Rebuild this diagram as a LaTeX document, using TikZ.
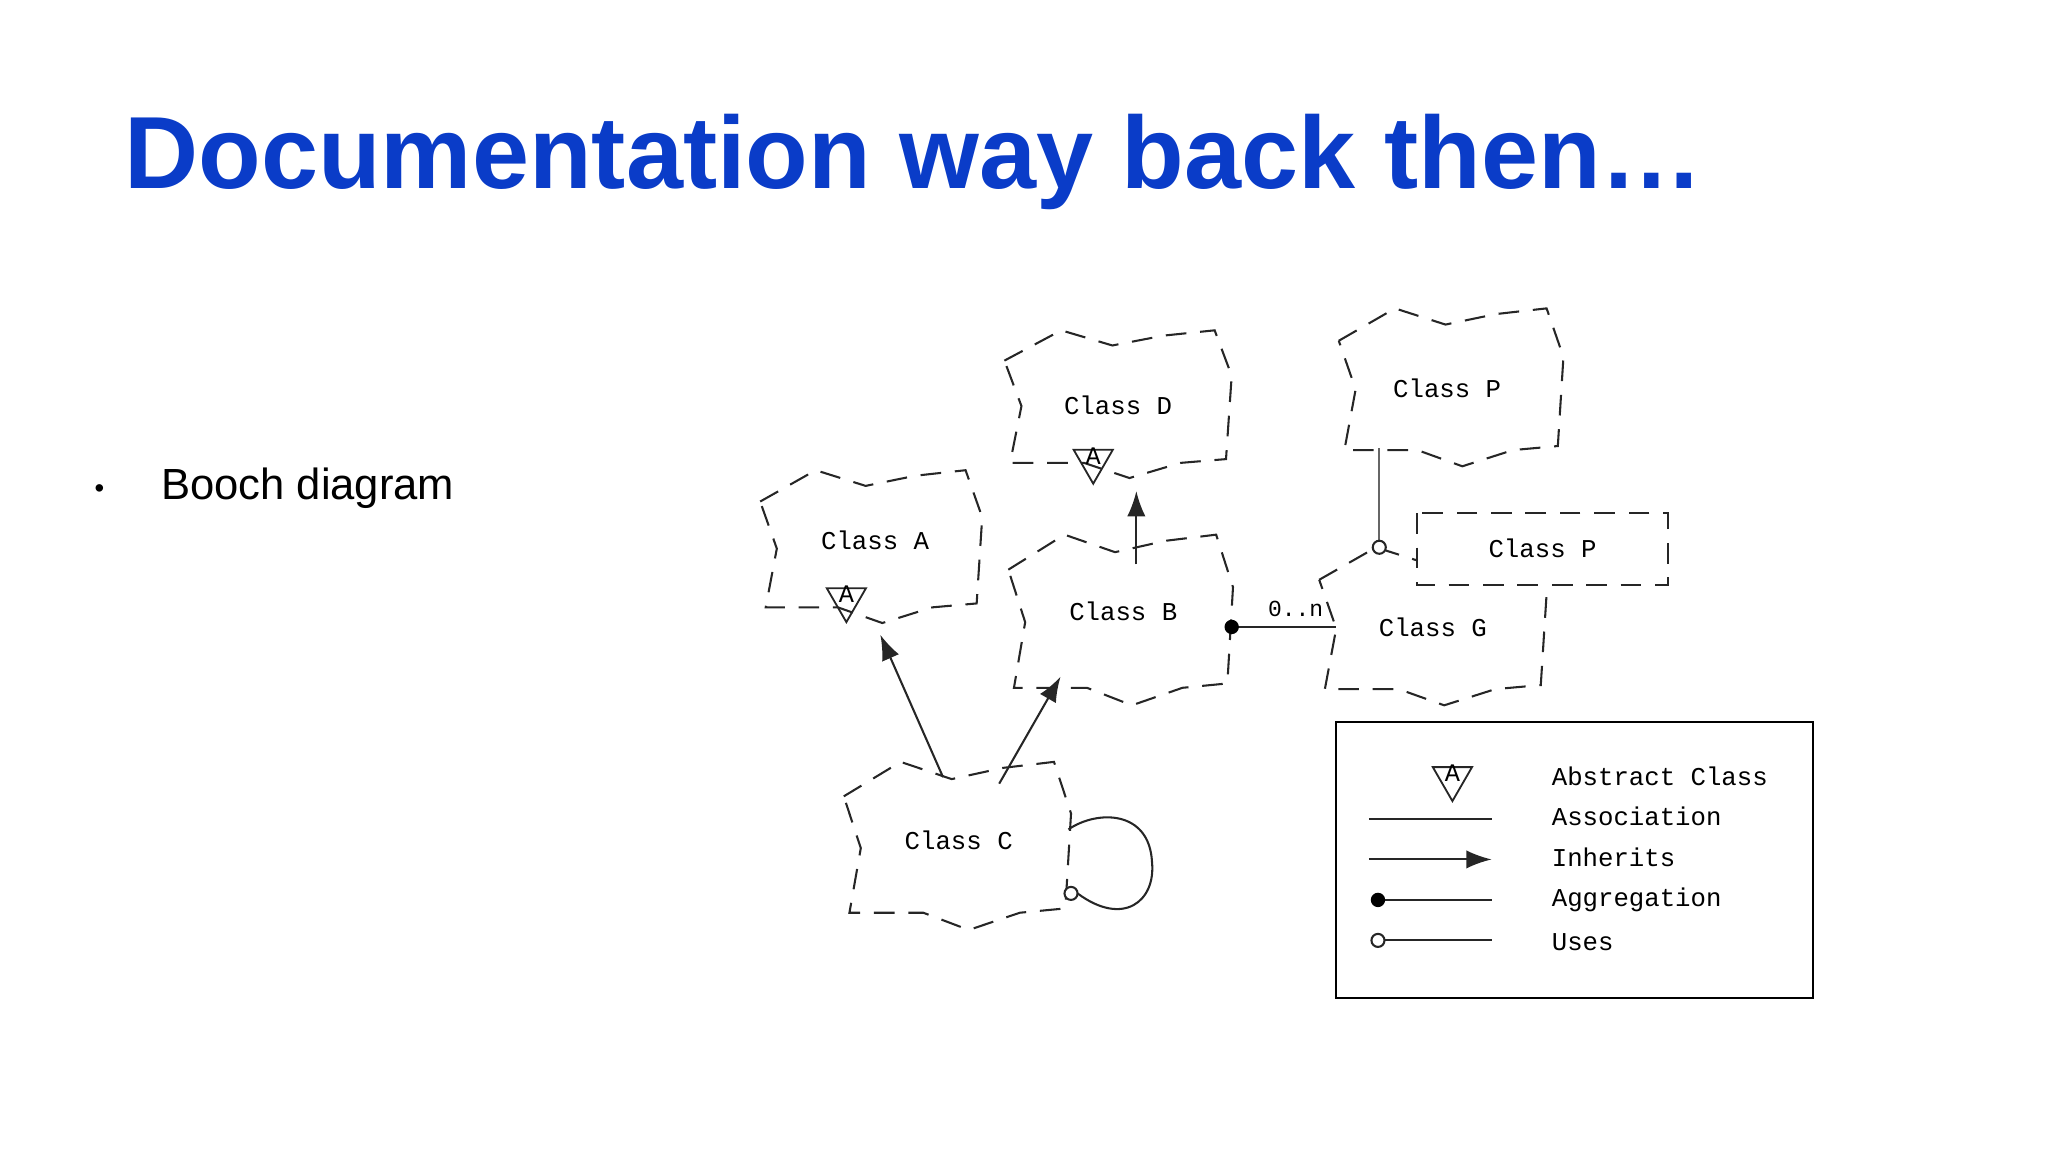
\documentclass[tikz,border=0pt]{standalone}
\usepackage{fontspec}
\setmainfont{Liberation Sans}
\newfontfamily\monof{Liberation Mono}
\usetikzlibrary{arrows.meta,shapes.geometric}
\definecolor{titleblue}{RGB}{10,60,200}
\tikzset{
  cloudline/.style={draw=black!85, line width=0.9pt, dash pattern=on 9pt off 6pt},
  lbl/.style={font=\monof\fontsize{11.2}{13}\selectfont, inner sep=1pt},
  conn/.style={draw=black!85, line width=0.9pt},
  inh/.style={conn, -{Latex[length=11pt,width=8pt]}},
  absA/.style={draw=black!85, line width=0.8pt, isosceles triangle, shape border rotate=-90, minimum width=0.6cm, minimum height=0.5cm, inner sep=0pt, isosceles triangle apex angle=60},
}
\newcommand{\mycloud}[4]{% cx cy hw hh
  \draw[cloudline] (#1-#3,#2-0.55*#4) -- (#1-0.5*#3,#2-0.95*#4) -- (#1-0.05*#3,#2-0.75*#4) -- (#1+0.4*#3,#2-0.88*#4) -- (#1+0.85*#3,#2-0.95*#4) -- (#1+#3,#2-0.35*#4) -- (#1+0.95*#3,#2+0.75*#4) -- (#1+0.55*#3,#2+0.8*#4) -- (#1+0.1*#3,#2+#4) -- (#1-0.3*#3,#2+0.8*#4) -- (#1-0.95*#3,#2+0.8*#4) -- (#1-0.85*#3,#2+0.05*#4) -- cycle;}
\begin{document}
\begin{tikzpicture}[x=0.02cm,y=-0.02cm]
\useasboundingbox (0,0) rectangle (1568,882);
\node[anchor=west, text=titleblue, font=\bfseries\fontsize{44.7}{52}\selectfont, inner sep=0pt] (title) at (95,124) {Documentation way back then\ldots};
\node[anchor=west, font=\fontsize{12}{14}\selectfont, inner sep=0pt] (bul) at (72,376) {\textbullet};
\node[anchor=west, font=\fontsize{19}{23}\selectfont, inner sep=0pt] (booch) at (123,374) {Booch diagram};
% clouds
\mycloud{667}{417}{85}{60}
\mycloud{856}{308}{87}{58}
\mycloud{858}{473}{86}{67}
\mycloud{733}{646}{87}{66}
\mycloud{1097}{478}{87}{62}
\mycloud{1111}{295}{86}{62}
\fill[white] (1085,393) rectangle (1277,448);
\draw[cloudline] (1085,393) rectangle (1277,448);
\node[lbl] (A) at (670,414) {Class A};
\node[lbl] (D) at (856,310) {Class D};
\node[lbl] (B) at (860,468) {Class B};
\node[lbl] (C) at (734,643) {Class C};
\node[lbl] (G) at (1097,480) {Class G};
\node[lbl] (P) at (1108,297) {Class P};
\node[lbl] (P2) at (1181,420) {Class P};
\node[absA] (tA) at (648,459) {};
\node[font=\monof\fontsize{11}{12}\selectfont] (tAl) at (648,455) {A};
\node[absA] (tD) at (837,353) {};
\node[font=\monof\fontsize{11}{12}\selectfont] (tDl) at (837,349) {A};
% connectors
\coordinate (c1) at (722,595); \coordinate (a1) at (674,486);
\coordinate (c2) at (765,600); \coordinate (b1) at (812,518);
\coordinate (b2) at (870,432); \coordinate (d1) at (870,376);
\coordinate (b3) at (943,480); \coordinate (g1) at (1023,480);
\coordinate (p1) at (1056,343); \coordinate (p2) at (1056,414);
\coordinate (cl) at (820,684);
\draw[inh] (c1) -- (a1);
\draw[inh] (c2) -- (b1);
\draw[inh] (b2) -- (d1);
\draw[conn] (b3) -- (g1);
\fill (b3) circle (5.5);
\node[lbl, font=\monof\fontsize{10}{12}\selectfont] (card) at (992,466) {0..n};
\draw[conn, black!60] (p1) -- (p2);
\draw[conn, fill=white] (1056,419) circle (5);
\draw[conn] (825,684) .. controls (860,710) and (885,690) .. (882,660) .. controls (880,620) and (840,620) .. (818,635);
\draw[conn, fill=white] (cl) circle (5);
% legend
\draw[line width=1pt] (1023,553) rectangle (1388,764);
\node[absA] (lt) at (1112,596) {};
\node[font=\monof\fontsize{11}{12}\selectfont] (ltl) at (1112,592) {A};
\coordinate (l1a) at (1048,627); \coordinate (l1b) at (1142,627);
\coordinate (l2a) at (1048,658); \coordinate (l2b) at (1142,658);
\coordinate (l3a) at (1055,689); \coordinate (l3b) at (1142,689);
\coordinate (l4a) at (1055,720); \coordinate (l4b) at (1142,720);
\draw[conn] (l1a) -- (l1b);
\draw[inh] (l2a) -- (l2b);
\draw[conn] (l3a) -- (l3b); \fill (l3a) circle (5.5);
\draw[conn] (l4a) -- (l4b); \draw[conn, fill=white] (l4a) circle (5);
\foreach \t/\y/\n in {Abstract Class/594/la,Association/625/lb,Inherits/656/lc,Aggregation/689/ld,Uses/721/le}
  \node[lbl, anchor=west] (\n) at (1186,\y) {\t};
\end{tikzpicture}
\end{document}
